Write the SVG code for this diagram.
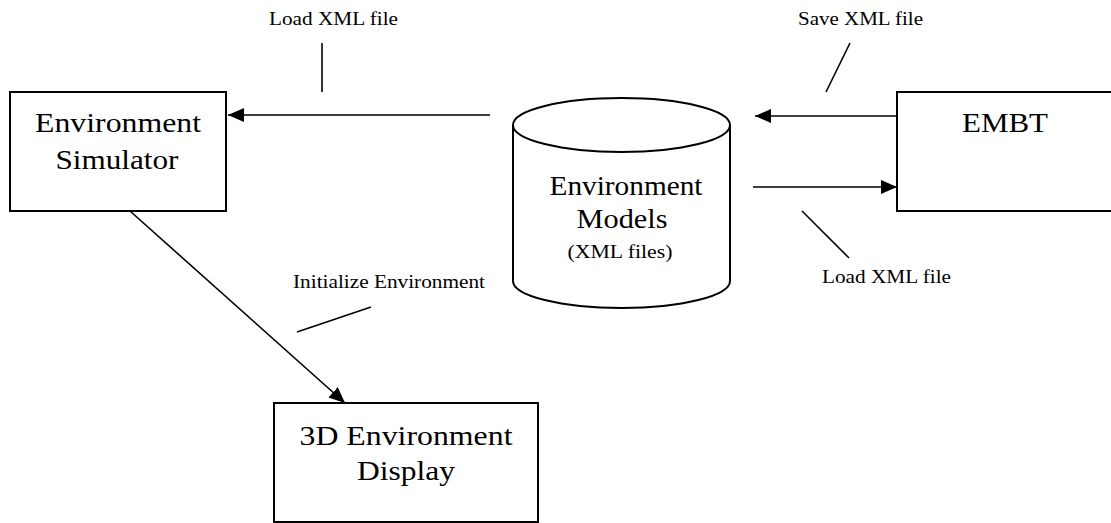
<svg xmlns="http://www.w3.org/2000/svg" width="1111" height="523" viewBox="0 0 1111 523">
<style>
.box{fill:#fff;stroke:#000;stroke-width:2}
.ln{fill:none;stroke:#000;stroke-width:1.6}
.big{font-family:"Liberation Serif","Times New Roman",serif;font-size:28px;fill:#000}
.sm{font-family:"Liberation Serif","Times New Roman",serif;font-size:18px;fill:#000}
</style>
<defs>
<marker id="ah2" viewBox="0 0 16 14" refX="16" refY="7" markerWidth="16" markerHeight="14" markerUnits="userSpaceOnUse" orient="auto">
<path d="M0,0 L16,7 L0,14 Z" fill="#000"/>
</marker>
</defs>
<g id="simulator">
<rect class="box" x="10" y="92" width="216" height="119"/>
<text class="big" x="118" y="132" text-anchor="middle" textLength="166" lengthAdjust="spacingAndGlyphs">Environment</text>
<text class="big" x="117" y="169" text-anchor="middle" textLength="123" lengthAdjust="spacingAndGlyphs">Simulator</text>
</g>
<g id="models">
<path class="box" d="M513,125 L513,281 A108.5,27 0 0 0 730,281 L730,125"/>
<ellipse class="box" cx="621.5" cy="125" rx="108.5" ry="27"/>
<text class="big" x="626" y="195" text-anchor="middle" textLength="153" lengthAdjust="spacingAndGlyphs">Environment</text>
<text class="big" x="622" y="228" text-anchor="middle" textLength="91" lengthAdjust="spacingAndGlyphs">Models</text>
<text class="sm" x="620" y="258" text-anchor="middle" textLength="105" lengthAdjust="spacingAndGlyphs">(XML files)</text>
</g>
<g id="embt">
<rect class="box" x="897" y="92" width="230" height="119"/>
<text class="big" x="1005" y="132" text-anchor="middle" textLength="86" lengthAdjust="spacingAndGlyphs">EMBT</text>
</g>
<g id="display">
<rect class="box" x="274" y="403" width="264" height="119"/>
<text class="big" x="406" y="445" text-anchor="middle" textLength="213" lengthAdjust="spacingAndGlyphs">3D Environment</text>
<text class="big" x="406" y="480" text-anchor="middle" textLength="98" lengthAdjust="spacingAndGlyphs">Display</text>
</g>
<g id="connectors">
<line class="ln" x1="490" y1="115" x2="228" y2="115" marker-end="url(#ah2)"/>
<line class="ln" x1="897" y1="116" x2="755" y2="116" marker-end="url(#ah2)"/>
<line class="ln" x1="753" y1="187" x2="897" y2="187" marker-end="url(#ah2)"/>
<line class="ln" x1="130" y1="211" x2="345" y2="403" marker-end="url(#ah2)"/>
<line class="ln" x1="322" y1="43" x2="322" y2="92"/>
<line class="ln" x1="826" y1="92" x2="850" y2="43"/>
<line class="ln" x1="802" y1="211" x2="849" y2="258"/>
<line class="ln" x1="297" y1="332" x2="371" y2="307"/>
<text class="sm" x="269" y="25" textLength="129" lengthAdjust="spacingAndGlyphs">Load XML file</text>
<text class="sm" x="798" y="25" textLength="125" lengthAdjust="spacingAndGlyphs">Save XML file</text>
<text class="sm" x="822" y="283" textLength="129" lengthAdjust="spacingAndGlyphs">Load XML file</text>
<text class="sm" x="293" y="288" textLength="192" lengthAdjust="spacingAndGlyphs">Initialize Environment</text>
</g>
</svg>
